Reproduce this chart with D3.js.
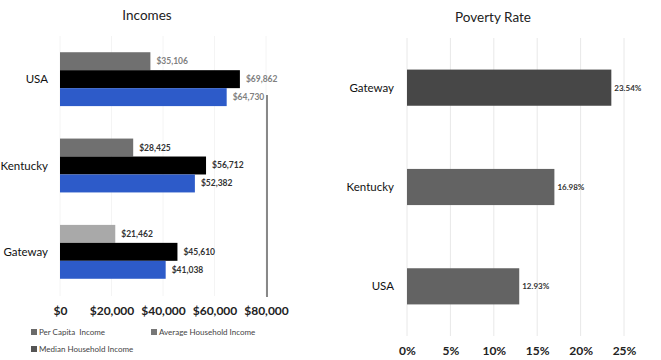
<!DOCTYPE html>
<html>
<head>
<meta charset="utf-8">
<script src="https://cdn.jsdelivr.net/npm/d3@7"></script>
<style>
	body { margin: 0; background: #fff; }
	text { font-family: Lato, "Open Sans", sans-serif; }
</style>
</head>
<body>
<script>
// Incomes data
var places = ["USA", "Kentucky", "Gateway"];
var series = ["Per Capita  Income", "Average Household Income", "Median Household Income"];
var perCapita = [35106, 28425, 21462];
var avgHousehold = [69862, 56712, 45610];
var medHousehold = [64730, 52382, 41038];
var incomeTicks = [0, 20000, 40000, 60000, 80000];

// Poverty data
var povPlaces = ["Gateway", "Kentucky", "USA"];
var povRate = [0.2354, 0.1698, 0.1293];
var povTicks = [0, 0.05, 0.10, 0.15, 0.20, 0.25];

var width = 661, height = 360;

var svg = d3.select("body")
	.append("svg")
	.attr("width", width)
	.attr("height", height);

// ---------- Incomes ----------
var x = d3.scaleLinear().domain([0, 80000]).range([60, 266]);
var y = d3.scaleBand().domain(places).range([36, 295]).paddingInner(0.376).paddingOuter(0.188);
var ySub = d3.scaleBand().domain(series).range([0, y.bandwidth()]);

var seriesColor = {};
seriesColor[series[0]] = "#707070";
seriesColor[series[1]] = "#000000";
seriesColor[series[2]] = "#2d5bc9";

var left = svg.append("g");

left.append("text")
	.attr("x", 147).attr("y", 20)
	.attr("text-anchor", "middle")
	.attr("font-size", 13.5)
	.attr("fill", "#222")
	.text("Incomes");

// faint grid
left.selectAll(".grid")
	.data(incomeTicks)
	.enter().append("line")
	.attr("x1", function(d) { return x(d); })
	.attr("x2", function(d) { return x(d); })
	.attr("y1", 36).attr("y2", 296)
	.attr("stroke", "#f4f4f4");

var rows = places.map(function(p, i) {
	return [
		{ place: p, s: series[0], v: perCapita[i] },
		{ place: p, s: series[1], v: avgHousehold[i] },
		{ place: p, s: series[2], v: medHousehold[i] }
	];
});

var group = left.selectAll(".grp")
	.data(rows)
	.enter().append("g")
	.attr("transform", function(d) { return "translate(0," + y(d[0].place) + ")"; });

group.selectAll("rect")
	.data(function(d) { return d; })
	.enter().append("rect")
	.attr("x", x(0))
	.attr("y", function(d) { return ySub(d.s); })
	.attr("width", function(d) { return x(d.v) - x(0); })
	.attr("height", ySub.bandwidth())
	.attr("fill", function(d) {
		// the Gateway per capita bar is drawn lighter in the original
		if (d.place == "Gateway" && d.s == series[0]) return "#a9a9a9";
		return seriesColor[d.s];
	});

group.selectAll(".val")
	.data(function(d) { return d; })
	.enter().append("text")
	.attr("x", function(d) { return x(d.v) + 6; })
	.attr("y", function(d) { return ySub(d.s) + ySub.bandwidth() / 2 + 3; })
	.attr("font-size", 8.5)
	.attr("font-weight", "bold")
	.attr("fill", function(d) { return d.place == "USA" ? "#808080" : "#333"; })
	.text(function(d) { return d3.format("$,")(d.v); });

left.selectAll(".cat")
	.data(places)
	.enter().append("text")
	.attr("x", 48)
	.attr("y", function(d) { return y(d) + y.bandwidth() / 2 + 4; })
	.attr("text-anchor", "end")
	.attr("font-size", 11.5)
	.attr("fill", "#111")
	.text(function(d) { return d; });

// vertical rule near $80,000
left.append("line")
	.attr("x1", x(80000) + 1).attr("x2", x(80000) + 1)
	.attr("y1", 95).attr("y2", 297)
	.attr("stroke", "#888")
	.attr("stroke-width", 2);

var xAxis = left.append("g")
	.attr("transform", "translate(0,303)")
	.call(d3.axisBottom(x).tickValues(incomeTicks).tickSize(0).tickFormat(d3.format("$,")));
xAxis.select(".domain").remove();
xAxis.selectAll("text")
	.attr("font-family", "Lato, sans-serif")
	.attr("font-size", 12)
	.attr("font-weight", "bold")
	.attr("fill", "#222");

// legend
var legendPos = [[31, 335], [151, 335], [31, 352]];
var legendColor = ["#6a6a6a", "#777", "#555"];
var legend = left.selectAll(".leg")
	.data(series)
	.enter().append("g")
	.attr("transform", function(d, i) { return "translate(" + legendPos[i][0] + "," + legendPos[i][1] + ")"; });
legend.append("rect")
	.attr("x", 0).attr("y", -6)
	.attr("width", 6).attr("height", 6)
	.attr("fill", function(d, i) { return legendColor[i]; });
legend.append("text")
	.attr("x", 8).attr("y", 0)
	.attr("font-size", 8)
	.attr("fill", "#444")
	.style("white-space", "pre")
	.text(function(d) { return d; });

// ---------- Poverty Rate ----------
var px = d3.scaleLinear().domain([0, 0.25]).range([407, 624]);
var py = d3.scaleBand().domain(povPlaces).range([38, 336]).paddingInner(0.636).paddingOuter(0.318);

var right = svg.append("g");

right.append("text")
	.attr("x", 493).attr("y", 22)
	.attr("text-anchor", "middle")
	.attr("font-size", 13.5)
	.attr("fill", "#222")
	.text("Poverty Rate");

right.selectAll(".grid")
	.data(povTicks)
	.enter().append("line")
	.attr("x1", function(d) { return px(d); })
	.attr("x2", function(d) { return px(d); })
	.attr("y1", 38).attr("y2", 336)
	.attr("stroke", "#e8e8e8");

right.selectAll(".bar")
	.data(povRate)
	.enter().append("rect")
	.attr("x", px(0))
	.attr("y", function(d, i) { return py(povPlaces[i]); })
	.attr("width", function(d) { return px(d) - px(0); })
	.attr("height", py.bandwidth())
	.attr("fill", function(d, i) { return i == 0 ? "#474747" : "#636363"; });

right.selectAll(".val")
	.data(povRate)
	.enter().append("text")
	.attr("x", function(d) { return px(d) + 3; })
	.attr("y", function(d, i) { return py(povPlaces[i]) + py.bandwidth() / 2 + 3; })
	.attr("font-size", 8)
	.attr("font-weight", "bold")
	.attr("fill", "#333")
	.text(function(d) { return d3.format(".2%")(d); });

right.selectAll(".cat")
	.data(povPlaces)
	.enter().append("text")
	.attr("x", 394)
	.attr("y", function(d) { return py(d) + py.bandwidth() / 2 + 4; })
	.attr("text-anchor", "end")
	.attr("font-size", 11.5)
	.attr("fill", "#111")
	.text(function(d) { return d; });

var pAxis = right.append("g")
	.attr("transform", "translate(0,343)")
	.call(d3.axisBottom(px).tickValues(povTicks).tickSize(0).tickFormat(d3.format(".0%")));
pAxis.select(".domain").remove();
pAxis.selectAll("text")
	.attr("font-family", "Lato, sans-serif")
	.attr("font-size", 12)
	.attr("font-weight", "bold")
	.attr("fill", "#222");
</script>
</body>
</html>
